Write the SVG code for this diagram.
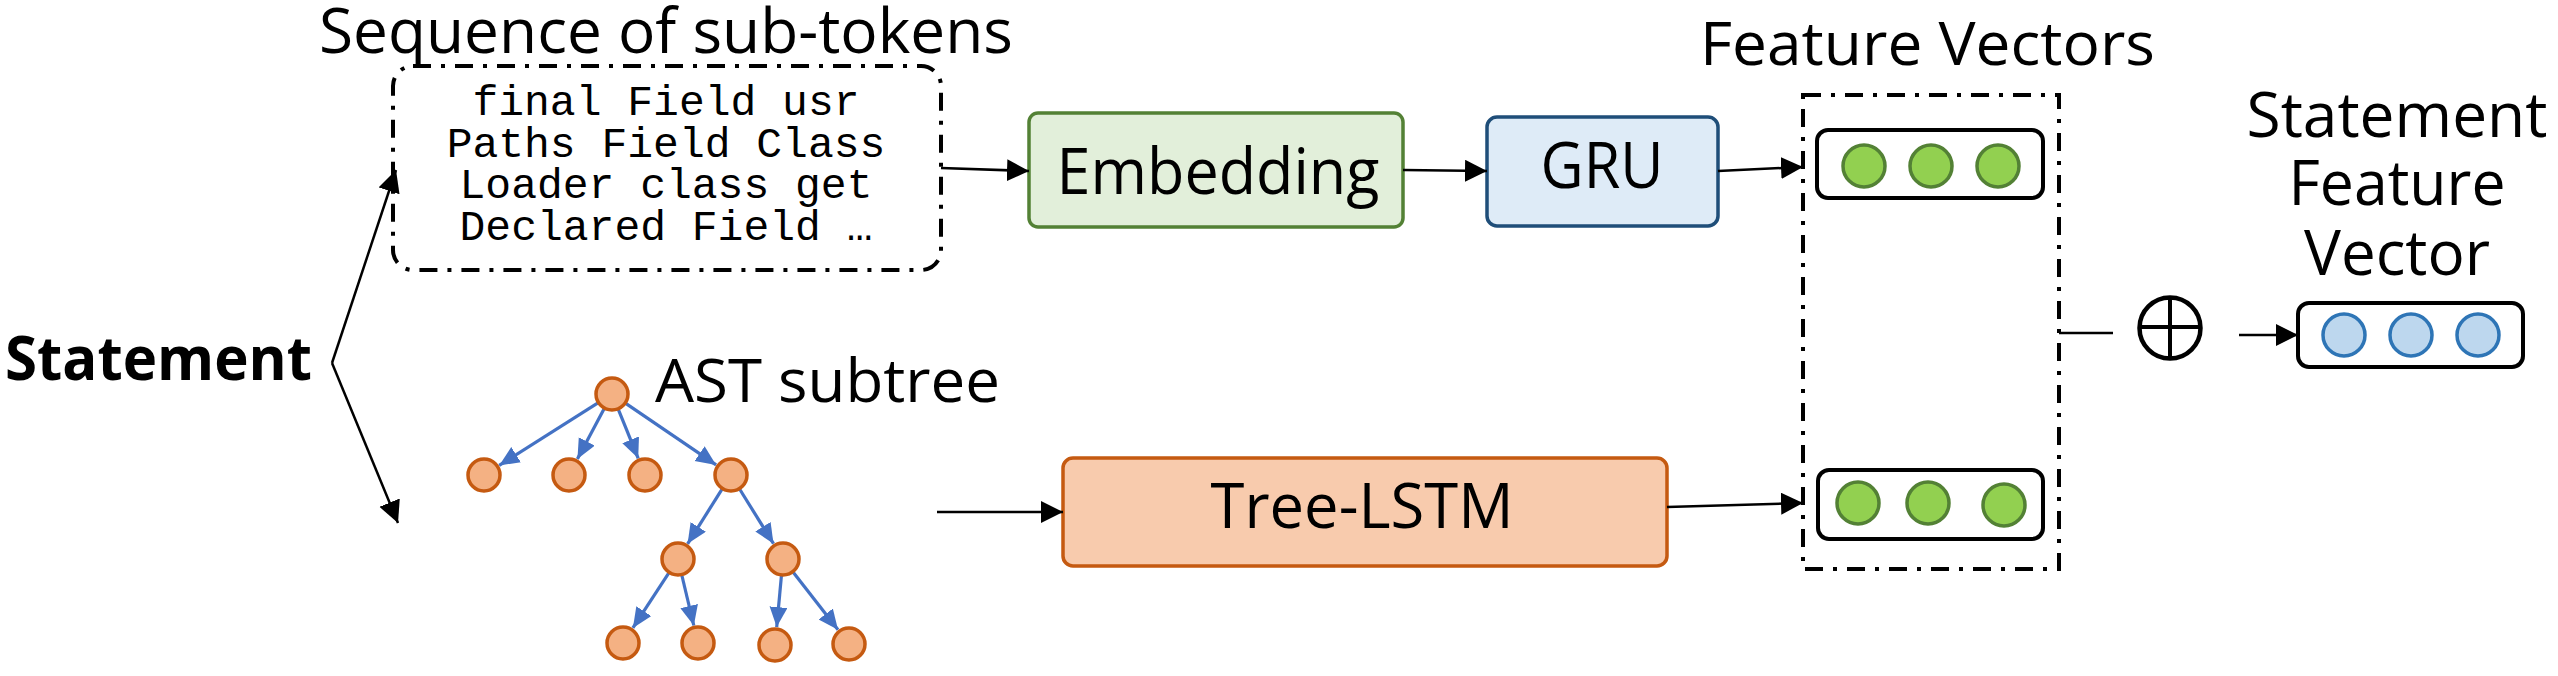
<svg xmlns="http://www.w3.org/2000/svg" width="2558" height="676" viewBox="0 0 2558 676">
<style>
  .lbl { font-family: "Open Sans", "Liberation Sans", sans-serif; fill: #000; }
  .mono { font-family: "Liberation Mono", "DejaVu Sans Mono", monospace; font-size: 43px; fill: #000; text-anchor: middle; }
  .conn { stroke: #000; stroke-width: 2.5; fill: none; }
  .tedge { stroke: #4472C4; stroke-width: 3.2; fill: none; marker-end: url(#tarrow); }
  .tnode { fill: #F4B183; stroke: #C55A11; stroke-width: 3.5; }
  .gdot { fill: #92D050; stroke: #538135; stroke-width: 3.5; }
  .bdot { fill: #BDD7EE; stroke: #2E75B6; stroke-width: 3.5; }
  .vbox { fill: #fff; stroke: #000; stroke-width: 4; }
  .dashbox { fill: none; stroke: #000; stroke-width: 4; stroke-dasharray: 18 10 4 10; }
</style>
<defs>
  <marker id="arrow" markerUnits="userSpaceOnUse" markerWidth="24" markerHeight="24" refX="22" refY="11" orient="auto">
    <path d="M0,0 L22,11 L0,22 z" fill="#000"/>
  </marker>
  <marker id="tarrow" markerUnits="userSpaceOnUse" markerWidth="22" markerHeight="20" refX="20" refY="9" orient="auto">
    <path d="M0,0 L20,9 L0,18 z" fill="#4472C4"/>
  </marker>
</defs>
<rect width="2558" height="676" fill="#fff"/>

<g id="statement">
  <text class="lbl" x="5" y="380" font-size="61" font-weight="bold" textLength="307" lengthAdjust="spacingAndGlyphs">Statement</text>
</g>

<g id="subtokens">
  <text class="lbl" x="319" y="53" font-size="63" textLength="694" lengthAdjust="spacingAndGlyphs">Sequence of sub-tokens</text>
  <rect class="dashbox" x="393" y="66" width="548" height="204" rx="20"/>
  <text class="mono"><tspan x="666" y="115">final Field usr</tspan><tspan x="666" y="157">Paths Field Class</tspan><tspan x="666" y="198">Loader class get</tspan><tspan x="666" y="240">Declared Field …</tspan></text>
</g>

<g id="embedding">
  <rect x="1029" y="113" width="374" height="114" rx="9" fill="#E2EFDA" stroke="#538135" stroke-width="3.5"/>
  <text class="lbl" x="1218" y="194" font-size="64" text-anchor="middle" textLength="323" lengthAdjust="spacingAndGlyphs">Embedding</text>
</g>

<g id="gru">
  <rect x="1487" y="117" width="231" height="109" rx="10" fill="#DEEBF7" stroke="#1F4E79" stroke-width="3.5"/>
  <text class="lbl" x="1602" y="188" font-size="64" text-anchor="middle" textLength="123" lengthAdjust="spacingAndGlyphs">GRU</text>
</g>

<g id="ast">
  <text class="lbl" x="655" y="402" font-size="60" textLength="345" lengthAdjust="spacingAndGlyphs">AST subtree</text>
  <line class="tedge" x1="597.6" y1="403.1" x2="499.2" y2="465.4"/>
  <line class="tedge" x1="604.0" y1="409.0" x2="577.4" y2="459.1"/>
  <line class="tedge" x1="618.4" y1="409.7" x2="638.2" y2="458.3"/>
  <line class="tedge" x1="626.1" y1="403.6" x2="716.1" y2="464.9"/>
  <line class="tedge" x1="721.9" y1="489.4" x2="687.6" y2="543.8"/>
  <line class="tedge" x1="739.9" y1="489.5" x2="773.5" y2="543.7"/>
  <line class="tedge" x1="668.7" y1="573.2" x2="632.9" y2="627.9"/>
  <line class="tedge" x1="681.9" y1="575.5" x2="693.8" y2="625.5"/>
  <line class="tedge" x1="781.4" y1="575.9" x2="776.7" y2="627.1"/>
  <line class="tedge" x1="793.4" y1="572.4" x2="838.0" y2="629.8"/>
  <circle class="tnode" cx="612" cy="394" r="16"/>
  <circle class="tnode" cx="484" cy="475" r="16"/>
  <circle class="tnode" cx="569" cy="475" r="16"/>
  <circle class="tnode" cx="645" cy="475" r="16"/>
  <circle class="tnode" cx="731" cy="475" r="16"/>
  <circle class="tnode" cx="678" cy="559" r="16"/>
  <circle class="tnode" cx="783" cy="559" r="16"/>
  <circle class="tnode" cx="623" cy="643" r="16"/>
  <circle class="tnode" cx="698" cy="643" r="16"/>
  <circle class="tnode" cx="775" cy="645" r="16"/>
  <circle class="tnode" cx="849" cy="644" r="16"/>
</g>

<g id="treelstm">
  <rect x="1063" y="458" width="604" height="108" rx="10" fill="#F8CBAD" stroke="#C55A11" stroke-width="3.5"/>
  <text class="lbl" x="1362" y="528" font-size="63" text-anchor="middle" textLength="303" lengthAdjust="spacingAndGlyphs">Tree-LSTM</text>
</g>

<g id="feature-vectors">
  <text class="lbl" x="1700" y="65" font-size="61" textLength="455" lengthAdjust="spacingAndGlyphs">Feature Vectors</text>
  <rect class="dashbox" x="1803" y="95" width="256" height="474"/>
  <rect class="vbox" x="1817" y="130" width="226" height="68" rx="11"/>
  <circle class="gdot" cx="1864" cy="166" r="21"/>
  <circle class="gdot" cx="1931" cy="166" r="21"/>
  <circle class="gdot" cx="1998" cy="166" r="21"/>
  <rect class="vbox" x="1818" y="470" width="225" height="69" rx="11"/>
  <circle class="gdot" cx="1858" cy="503" r="21"/>
  <circle class="gdot" cx="1928" cy="503" r="21"/>
  <circle class="gdot" cx="2004" cy="505" r="21"/>
</g>

<g id="concat">
  <circle cx="2170" cy="328" r="30.5" fill="none" stroke="#000" stroke-width="4.5"/>
  <line x1="2139.5" y1="327" x2="2200.5" y2="327" stroke="#000" stroke-width="4"/>
  <line x1="2170" y1="297.5" x2="2170" y2="358.5" stroke="#000" stroke-width="4"/>
</g>

<g id="statement-vector">
  <text class="lbl" font-size="62" text-anchor="middle"><tspan x="2397" y="137" textLength="301" lengthAdjust="spacingAndGlyphs">Statement</tspan><tspan x="2397" y="205" textLength="217" lengthAdjust="spacingAndGlyphs">Feature</tspan><tspan x="2397" y="275" textLength="186" lengthAdjust="spacingAndGlyphs">Vector</tspan></text>
  <rect class="vbox" x="2298" y="303" width="225" height="64" rx="11"/>
  <circle class="bdot" cx="2344" cy="335" r="21"/>
  <circle class="bdot" cx="2411" cy="335" r="21"/>
  <circle class="bdot" cx="2478" cy="335" r="21"/>
</g>

<g id="connectors">
  <line class="conn" stroke-width="2" x1="332" y1="363" x2="396" y2="170" marker-end="url(#arrow)"/>
  <line class="conn" stroke-width="2" x1="332" y1="363" x2="398" y2="523" marker-end="url(#arrow)"/>
  <line class="conn" x1="941" y1="168" x2="1029" y2="171" marker-end="url(#arrow)"/>
  <line class="conn" x1="1403" y1="170" x2="1487" y2="171" marker-end="url(#arrow)"/>
  <line class="conn" x1="1718" y1="171" x2="1803" y2="167" marker-end="url(#arrow)"/>
  <line class="conn" x1="937" y1="512" x2="1063" y2="512" marker-end="url(#arrow)"/>
  <line class="conn" x1="1667" y1="507" x2="1803" y2="503" marker-end="url(#arrow)"/>
  <line class="conn" stroke-width="2" x1="2059" y1="333" x2="2113" y2="333"/>
  <line class="conn" x1="2239" y1="335" x2="2298" y2="335" marker-end="url(#arrow)"/>
</g>
</svg>
